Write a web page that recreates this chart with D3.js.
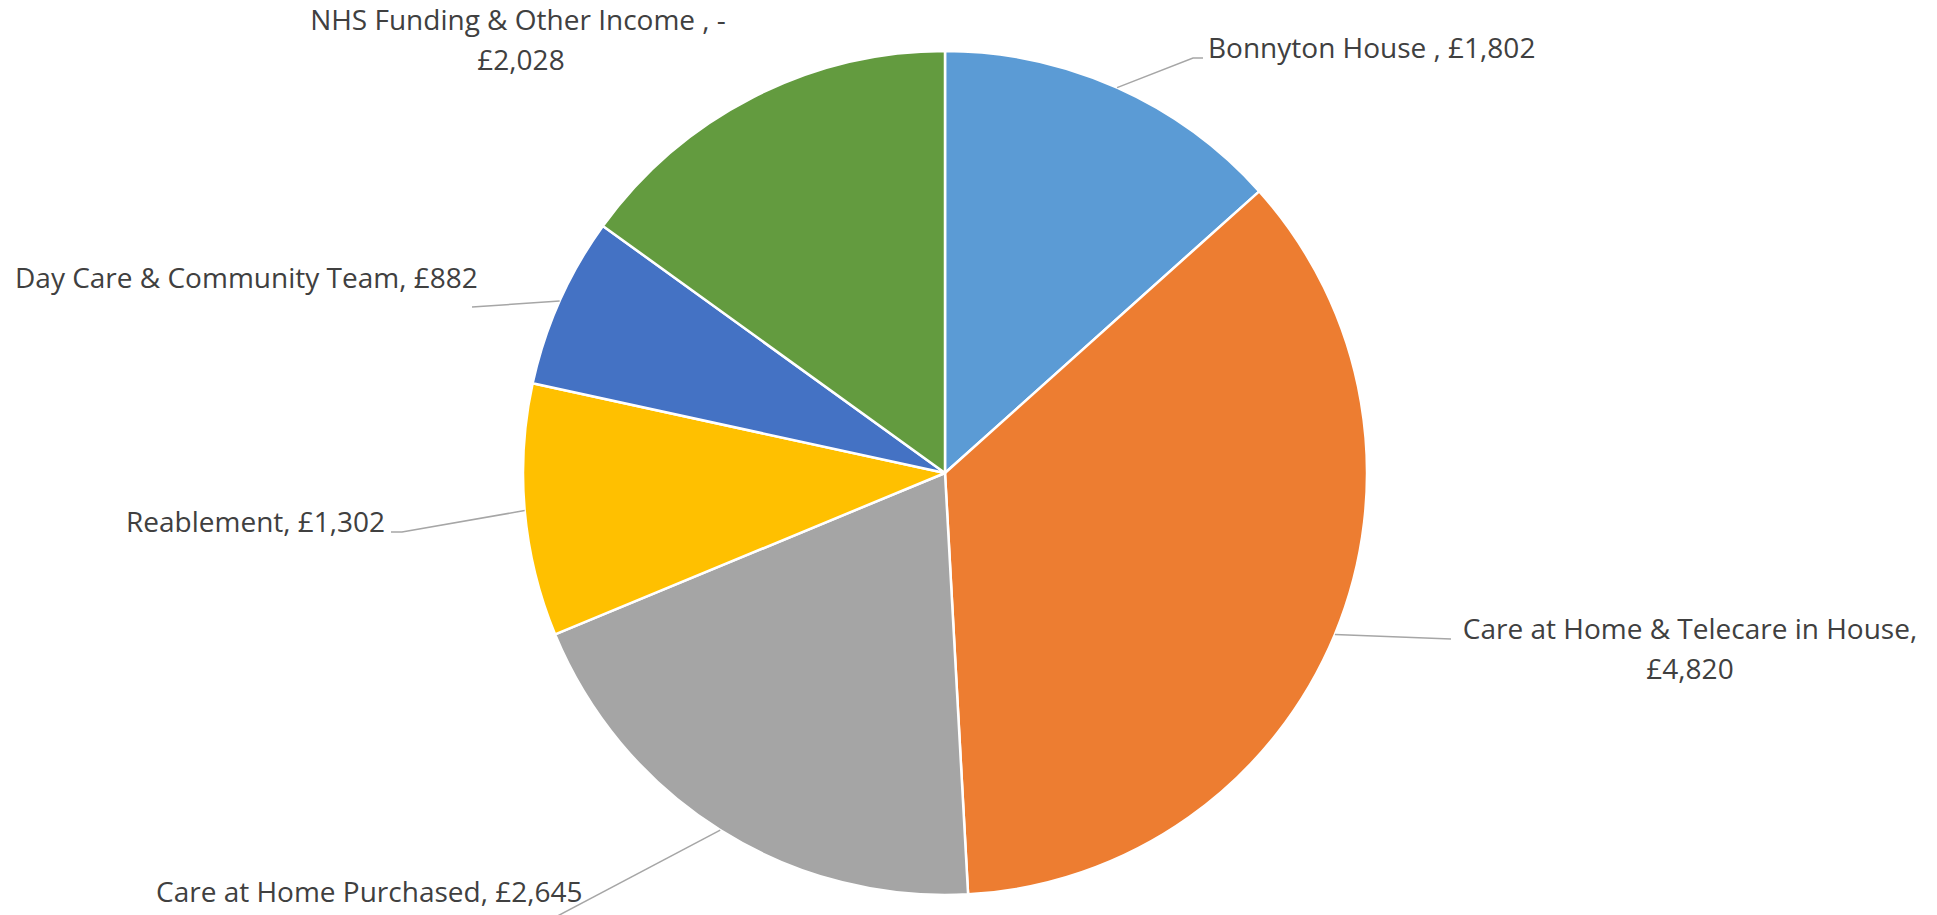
<!DOCTYPE html>
<html>
  <head>
    <meta charset="utf-8" />
    <title>pie chart</title>
    <script src="https://d3js.org/d3.v7.min.js"></script>
    <style>
      body {
        margin: 0;
        background: #fff;
      }
      text {
        font-family: "Open Sans", sans-serif;
        font-size: 28px;
        fill: #404040;
      }
    </style>
  </head>
  <body>

    <svg id="chart"></svg>

    <script>

      var categories = [
        "Bonnyton House ",
        "Care at Home & Telecare in House",
        "Care at Home Purchased",
        "Reablement",
        "Day Care & Community Team",
        "NHS Funding & Other Income "
      ];
      var values = [1802, 4820, 2645, 1302, 882, -2028];
      var colours = ["#5B9BD5", "#ED7D31", "#A5A5A5", "#FFC000", "#4472C4", "#639B3F"];

      var width = 1937;
      var height = 915;
      var cx = 945, cy = 473, radius = 422;

      // where each label sits (lines of text, anchor) and where its leader ends
      var labelLayout = [
        { x: 1208, y: 58, anchor: "start", lines: 1, leader: [[1193, 58], [1203, 58]] },
        { x: 1690, y: 639, anchor: "middle", lines: 2, leader: [[1451, 639]] },
        { x: 156, y: 902, anchor: "start", lines: 1, leader: [[548, 921]] },
        { x: 126, y: 532, anchor: "start", lines: 1, leader: [[402, 532], [391, 532]] },
        { x: 15, y: 288, anchor: "start", lines: 1, leader: [[472, 307]] },
        { x: 518, y: 30, anchor: "middle", lines: 2, leader: null }
      ];

      var fmt = function(v) {
        return (v < 0 ? "-£" : "£") + d3.format(",")(Math.abs(v));
      };

      var svg = d3.select("#chart")
        .attr("width", width)
        .attr("height", height);

      var pie = d3.pie()
        .sort(null)
        .value(function(d) { return Math.abs(d); });

      var arcs = pie(values);

      var arc = d3.arc()
        .innerRadius(0)
        .outerRadius(radius);

      var edge = d3.arc()
        .innerRadius(radius)
        .outerRadius(radius);

      var g = svg.append("g")
        .attr("transform", "translate(" + cx + "," + cy + ")");

      g.selectAll(".slice")
        .data(arcs)
        .enter().append("path")
        .attr("class", "slice")
        .attr("d", arc)
        .attr("fill", function(d, i) { return colours[i]; })
        .attr("stroke", "#fff")
        .attr("stroke-width", 2.5)
        .attr("stroke-linejoin", "round");

      // leader lines from the middle of each slice's rim
      arcs.forEach(function(d, i) {
        var lay = labelLayout[i];
        if (!lay.leader) return;
        var p = edge.centroid(d);
        var pts = [[cx + p[0], cy + p[1]]].concat(lay.leader);
        svg.append("path")
          .attr("d", d3.line()(pts))
          .attr("fill", "none")
          .attr("stroke", "#A6A6A6")
          .attr("stroke-width", 1.5);
      });

      // labels
      arcs.forEach(function(d, i) {
        var lay = labelLayout[i];
        var t = svg.append("text")
          .attr("x", lay.x)
          .attr("y", lay.y)
          .attr("text-anchor", lay.anchor);
        if (lay.lines === 1) {
          t.text(categories[i] + ", " + fmt(values[i]));
        } else {
          var first = values[i] < 0
            ? categories[i] + ", -"
            : categories[i] + ",";
          var second = values[i] < 0
            ? "£" + d3.format(",")(Math.abs(values[i]))
            : fmt(values[i]);
          t.append("tspan").attr("x", lay.x).text(first);
          t.append("tspan").attr("x", lay.x + (values[i] < 0 ? 3 : 0)).attr("dy", 40).text(second);
        }
      });

    </script>

  </body>
</html>
